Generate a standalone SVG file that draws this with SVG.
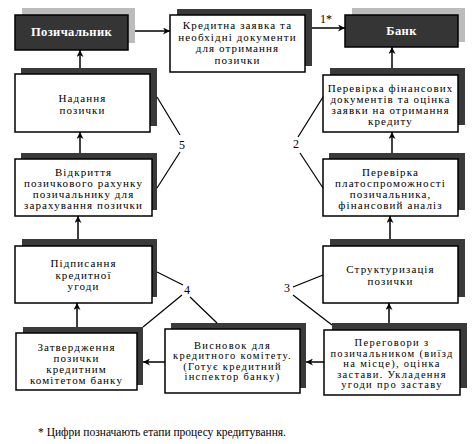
<svg xmlns="http://www.w3.org/2000/svg" width="475" height="444" viewBox="0 0 475 444">
<defs>
<style>
.sh{fill:#3a3a3a}
.shl{fill:#bcbcbc}
.bx{fill:#fff;stroke:#000;stroke-width:1.5}
.dk{fill:#353535;stroke:#000;stroke-width:1.5}
.t{font-family:'Liberation Serif','DejaVu Serif','Times New Roman',serif;font-size:11px;fill:#000;text-anchor:middle;letter-spacing:1.1px}
.s{font-size:10.5px;letter-spacing:1.3px}
.tw{font-family:'Liberation Serif','DejaVu Serif','Times New Roman',serif;font-size:12.5px;font-weight:bold;fill:#fff;text-anchor:middle;letter-spacing:0.4px}
.n{font-family:'Liberation Serif','DejaVu Serif','Times New Roman',serif;font-size:12px;fill:#000;text-anchor:middle}
.c{stroke:#000;stroke-width:1.5;fill:none}
.l{stroke:#000;stroke-width:1.2;fill:none}
</style>
<marker id="ah" viewBox="0 0 10 10" refX="10" refY="5" markerWidth="9" markerHeight="7" markerUnits="userSpaceOnUse" orient="auto">
<path d="M0,0 L10,5 L0,10 L3,5 Z" fill="#000"/>
</marker>
</defs>

<g id="borrower">
<rect class="shl" x="22" y="8" width="113" height="35"/>
<rect class="dk" x="15" y="15" width="113" height="35"/>
<text class="tw" x="71.5" y="36">Позичальник</text>
</g>

<g id="application">
<rect class="sh" x="177" y="9" width="135" height="57"/>
<rect class="bx" x="170" y="15" width="135" height="57"/>
<text class="t" x="237.5" y="29">Кредитна заявка та</text>
<text class="t" x="237.5" y="40.5">необхідні документи</text>
<text class="t" x="237.5" y="52">для отримання</text>
<text class="t" x="237.5" y="63.5">позички</text>
</g>

<g id="bank">
<rect class="shl" x="352" y="8" width="113" height="34"/>
<rect class="dk" x="345" y="15" width="113" height="32"/>
<text class="tw" x="401.5" y="35">Банк</text>
</g>

<g id="provide">
<rect class="sh" x="21" y="68" width="136" height="58"/>
<rect class="bx" x="15" y="74" width="135" height="58"/>
<text class="t" x="82.5" y="102">Надання</text>
<text class="t" x="82.5" y="114">позички</text>
</g>

<g id="check-docs">
<rect class="sh" x="330" y="68" width="135" height="57"/>
<rect class="bx" x="323" y="75" width="135" height="57"/>
<text class="t" x="390.5" y="92">Перевірка фінансових</text>
<text class="t" x="390.5" y="103">документів та оцінка</text>
<text class="t" x="390.5" y="114">заявки на отримання</text>
<text class="t" x="390.5" y="125">кредиту</text>
</g>

<g id="open-account">
<rect class="sh" x="21" y="153" width="136" height="57"/>
<rect class="bx" x="15" y="159" width="137" height="57"/>
<text class="t" x="83.5" y="176">Відкриття</text>
<text class="t" x="83.5" y="187">позичкового рахунку</text>
<text class="t" x="83.5" y="198">позичальнику для</text>
<text class="t" x="83.5" y="209">зарахування позички</text>
</g>

<g id="solvency">
<rect class="sh" x="329" y="153" width="136" height="57"/>
<rect class="bx" x="323" y="159" width="135" height="57"/>
<text class="t" x="390.5" y="176">Перевірка</text>
<text class="t" x="390.5" y="187">платоспроможності</text>
<text class="t" x="390.5" y="198">позичальника,</text>
<text class="t" x="390.5" y="209">фінансовий аналіз</text>
</g>

<g id="signing">
<rect class="sh" x="22" y="239" width="135" height="58"/>
<rect class="bx" x="15" y="246" width="137" height="57"/>
<text class="t" x="83.5" y="267">Підписання</text>
<text class="t" x="83.5" y="278.5">кредитної</text>
<text class="t" x="83.5" y="290">угоди</text>
</g>

<g id="structuring">
<rect class="sh" x="330" y="239" width="135" height="58"/>
<rect class="bx" x="323" y="246" width="135" height="57"/>
<text class="t" x="390.5" y="273">Структуризація</text>
<text class="t" x="390.5" y="284.5">позички</text>
</g>

<g id="approval">
<rect class="sh" x="23" y="327" width="120" height="58"/>
<rect class="bx" x="16" y="333" width="121" height="57"/>
<text class="t" x="76.5" y="350.5">Затвердження</text>
<text class="t" x="76.5" y="361.5">позички</text>
<text class="t" x="76.5" y="372.5">кредитним</text>
<text class="t" x="76.5" y="383.5">комітетом банку</text>
</g>

<g id="conclusion">
<rect class="sh" x="171" y="323" width="135" height="65"/>
<rect class="bx" x="165" y="329" width="135" height="64"/>
<text class="t s" x="232.5" y="348.5">Висновок для</text>
<text class="t s" x="232.5" y="359">кредитного комітету.</text>
<text class="t s" x="232.5" y="369.5">(Готує кредитний</text>
<text class="t s" x="232.5" y="380">інспектор банку)</text>
</g>

<g id="negotiation">
<rect class="sh" x="332" y="323" width="135" height="65"/>
<rect class="bx" x="324" y="330" width="136" height="65"/>
<text class="t s" x="392" y="346">Переговори з</text>
<text class="t s" x="392" y="356.5">позичальником (виїзд</text>
<text class="t s" x="392" y="367">на місце), оцінка</text>
<text class="t s" x="392" y="377.5">застави. Укладення</text>
<text class="t s" x="392" y="388">угоди про заставу</text>
</g>

<g id="connectors">
<line class="c" x1="135" y1="31" x2="170" y2="31" marker-end="url(#ah)"/>
<line class="c" x1="312" y1="28" x2="345" y2="28" marker-end="url(#ah)"/>
<line class="c" x1="80" y1="68" x2="80" y2="50" marker-end="url(#ah)"/>
<line class="c" x1="80" y1="153" x2="80" y2="132" marker-end="url(#ah)"/>
<line class="c" x1="78" y1="239" x2="78" y2="216" marker-end="url(#ah)"/>
<line class="c" x1="77" y1="327" x2="77" y2="303" marker-end="url(#ah)"/>
<line class="c" x1="165" y1="362" x2="143" y2="362" marker-end="url(#ah)"/>
<line class="c" x1="324" y1="362" x2="306" y2="362" marker-end="url(#ah)"/>
<line class="c" x1="389" y1="323" x2="389" y2="303" marker-end="url(#ah)"/>
<line class="c" x1="390" y1="239" x2="390" y2="216" marker-end="url(#ah)"/>
<line class="c" x1="392" y1="153" x2="392" y2="132" marker-end="url(#ah)"/>
<line class="c" x1="392" y1="68" x2="392" y2="47" marker-end="url(#ah)"/>
<line class="l" x1="157" y1="97" x2="180" y2="135"/>
<line class="l" x1="180" y1="152" x2="157" y2="188"/>
<line class="l" x1="323" y1="97" x2="298" y2="137"/>
<line class="l" x1="300" y1="153" x2="323" y2="188"/>
<line class="l" x1="157" y1="272" x2="183" y2="285"/>
<line class="l" x1="182" y1="295" x2="143" y2="327"/>
<line class="l" x1="190" y1="297" x2="217" y2="323"/>
<line class="l" x1="293" y1="287" x2="323" y2="275"/>
<line class="l" x1="293" y1="295" x2="332" y2="325"/>
</g>

<g id="labels">
<text class="n" x="326" y="23">1*</text>
<text class="n" x="182" y="149">5</text>
<text class="n" x="296" y="148">2</text>
<text class="n" x="187" y="294">4</text>
<text class="n" x="287" y="292">3</text>
<text class="n" x="162" y="436" style="font-size:11.5px">* Цифри позначають етапи процесу кредитування.</text>
</g>
</svg>
